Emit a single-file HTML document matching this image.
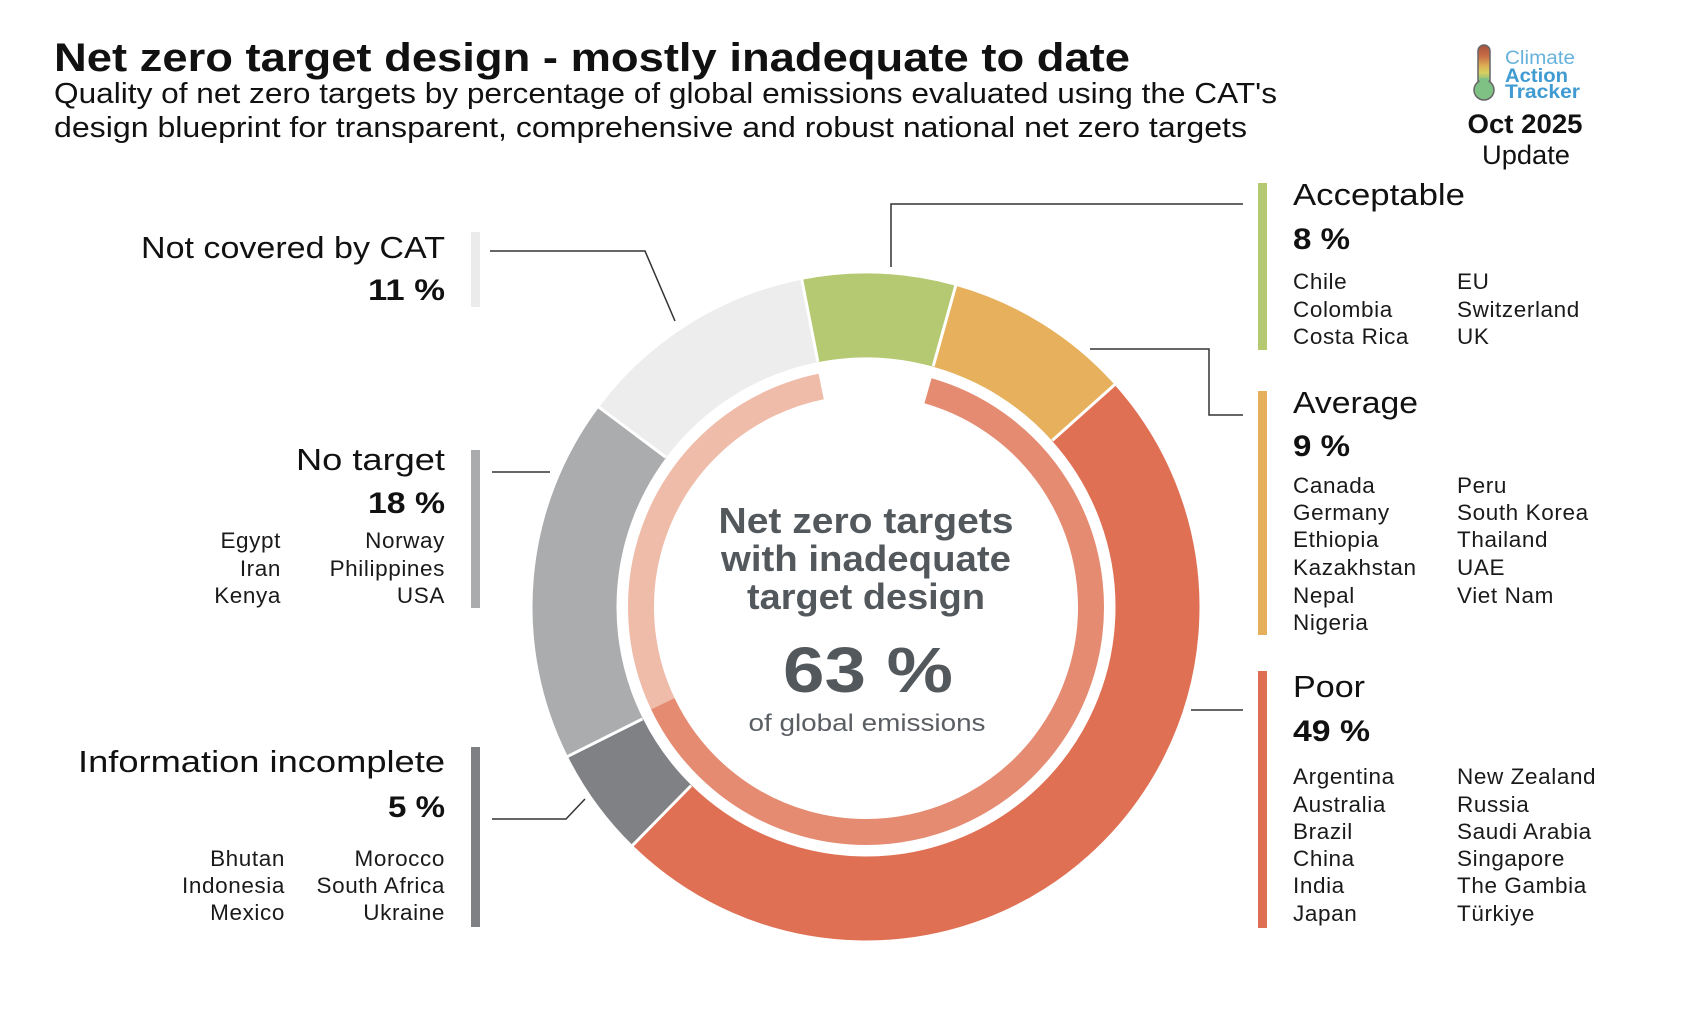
<!DOCTYPE html>
<html>
<head>
<meta charset="utf-8">
<style>
  html, body { margin: 0; padding: 0; background: #ffffff; }
  svg { display: block; }
  text { font-family: "Liberation Sans", "DejaVu Sans", sans-serif; }
  .hd { font-size: 31px; fill: #111; }
  .pc { font-size: 30px; font-weight: bold; fill: #111; }
  .ct { font-size: 22.5px; fill: #1a1a1a; letter-spacing: 0.6px; }
  .ln { stroke: #333; stroke-width: 1.5; fill: none; }
</style>
</head>
<body>
<svg width="1696" height="1022" viewBox="0 0 1696 1022" xmlns="http://www.w3.org/2000/svg">
  <defs>
    <linearGradient id="therm" x1="0" y1="0" x2="0" y2="1">
      <stop offset="0" stop-color="#a8523e"/>
      <stop offset="0.25" stop-color="#c96f45"/>
      <stop offset="0.45" stop-color="#dcae55"/>
      <stop offset="0.6" stop-color="#d8d060"/>
      <stop offset="0.75" stop-color="#8fc27d"/>
      <stop offset="1" stop-color="#7fc085"/>
    </linearGradient>
  </defs>

  <!-- Title -->
  <text x="54" y="71" font-size="40" font-weight="bold" fill="#111" textLength="1076" lengthAdjust="spacingAndGlyphs">Net zero target design - mostly inadequate to date</text>
  <text x="54" y="103" font-size="29" fill="#111" textLength="1223" lengthAdjust="spacingAndGlyphs">Quality of net zero targets by percentage of global emissions evaluated using the CAT's</text>
  <text x="54" y="137" font-size="29" fill="#111" textLength="1193" lengthAdjust="spacingAndGlyphs">design blueprint for transparent, comprehensive and robust national net zero targets</text>

  <!-- Logo -->
  <rect x="1478" y="45" width="12" height="46" rx="6" fill="url(#therm)" stroke="#666" stroke-width="1.5"/>
  <circle cx="1484" cy="90" r="10" fill="#7fc085" stroke="#666" stroke-width="1.5"/>
  <rect x="1479.5" y="78" width="9" height="14" fill="#7fc085"/>
  <text x="1505" y="64" font-size="19" fill="#67b2dd" textLength="70" lengthAdjust="spacingAndGlyphs">Climate</text>
  <text x="1505" y="82" font-size="19" font-weight="bold" fill="#3f9bd2" textLength="63" lengthAdjust="spacingAndGlyphs">Action</text>
  <text x="1505" y="98" font-size="19" font-weight="bold" fill="#3f9bd2" textLength="75" lengthAdjust="spacingAndGlyphs">Tracker</text>
  <text x="1525" y="133" font-size="27" font-weight="bold" fill="#111" text-anchor="middle" textLength="115" lengthAdjust="spacingAndGlyphs">Oct 2025</text>
  <text x="1526" y="164" font-size="27" fill="#111" text-anchor="middle" textLength="88" lengthAdjust="spacingAndGlyphs">Update</text>

  <!-- Outer ring -->
  <g fill="none" stroke-width="84">
    <circle cx="866" cy="607" r="291.5" stroke="#ededed" stroke-dasharray="214.2 5000" transform="rotate(216.8 866 607)"/>
    <circle cx="866" cy="607" r="291.5" stroke="#b4c971" stroke-dasharray="135.8 5000" transform="rotate(258.9 866 607)"/>
    <circle cx="866" cy="607" r="291.5" stroke="#e7b05c" stroke-dasharray="165.9 5000" transform="rotate(-74.4 866 607)"/>
    <circle cx="866" cy="607" r="291.5" stroke="#df7054" stroke-dasharray="896.4 5000" transform="rotate(-41.8 866 607)"/>
    <circle cx="866" cy="607" r="291.5" stroke="#7f8184" stroke-dasharray="96.7 5000" transform="rotate(134.4 866 607)"/>
    <circle cx="866" cy="607" r="291.5" stroke="#aaacae" stroke-dasharray="322.6 5000" transform="rotate(153.4 866 607)"/>
  </g>
  <g stroke="#fff" stroke-width="3">
    <line x1="866" y1="357" x2="866" y2="268" transform="rotate(306.8 866 607)"/>
    <line x1="866" y1="357" x2="866" y2="268" transform="rotate(348.9 866 607)"/>
    <line x1="866" y1="357" x2="866" y2="268" transform="rotate(15.6 866 607)"/>
    <line x1="866" y1="357" x2="866" y2="268" transform="rotate(48.2 866 607)"/>
    <line x1="866" y1="357" x2="866" y2="268" transform="rotate(224.4 866 607)"/>
    <line x1="866" y1="357" x2="866" y2="268" transform="rotate(243.4 866 607)"/>
  </g>

  <!-- Inner ring -->
  <g fill="none" stroke-width="26">
    <circle cx="866" cy="607" r="225" stroke="#f0bcaa" stroke-dasharray="408.4 5000" transform="rotate(154.5 866 607)"/>
    <circle cx="866" cy="607" r="225" stroke="#e58b71" stroke-dasharray="897.3 5000" transform="rotate(-74 866 607)"/>
  </g>

  <!-- Center text -->
  <g fill="#53585c" font-weight="bold" text-anchor="middle">
    <text x="866" y="533" font-size="36" textLength="295" lengthAdjust="spacingAndGlyphs">Net zero targets</text>
    <text x="866" y="571" font-size="36" textLength="290" lengthAdjust="spacingAndGlyphs">with inadequate</text>
    <text x="866" y="609" font-size="36" textLength="238" lengthAdjust="spacingAndGlyphs">target design</text>
    <text x="868" y="692" font-size="64" textLength="170" lengthAdjust="spacingAndGlyphs">63 %</text>
  </g>
  <text x="867" y="731" font-size="24" fill="#5b5f63" text-anchor="middle" textLength="237" lengthAdjust="spacingAndGlyphs">of global emissions</text>

  <!-- Connectors -->
  <path class="ln" d="M490 251 H645 L675 321"/>
  <path class="ln" d="M492 472 H550"/>
  <path class="ln" d="M492 819 H566 L585 799"/>
  <path class="ln" d="M891 267 V204 H1243"/>
  <path class="ln" d="M1090 349 H1209 V415 H1243"/>
  <path class="ln" d="M1191 710 H1243"/>

  <!-- Bars -->
  <rect x="471" y="232" width="9" height="75" fill="#ebebeb"/>
  <rect x="471" y="450" width="9" height="158" fill="#a9abad"/>
  <rect x="471" y="747" width="9" height="180" fill="#7e8083"/>
  <rect x="1258" y="183" width="9" height="167" fill="#b4c971"/>
  <rect x="1258" y="391" width="9" height="244" fill="#e6af5b"/>
  <rect x="1258" y="671" width="9" height="257" fill="#df6f53"/>

  <!-- Left labels -->
  <g text-anchor="end">
    <text class="hd" x="445" y="258" textLength="304" lengthAdjust="spacingAndGlyphs">Not covered by CAT</text>
    <text class="pc" x="445" y="300" textLength="77" lengthAdjust="spacingAndGlyphs">11 %</text>

    <text class="hd" x="445" y="470" textLength="149" lengthAdjust="spacingAndGlyphs">No target</text>
    <text class="pc" x="445" y="513" textLength="77" lengthAdjust="spacingAndGlyphs">18 %</text>
    <text class="ct" x="281" y="548">Egypt</text>
    <text class="ct" x="281" y="576">Iran</text>
    <text class="ct" x="281" y="603">Kenya</text>
    <text class="ct" x="445" y="548">Norway</text>
    <text class="ct" x="445" y="576">Philippines</text>
    <text class="ct" x="445" y="603">USA</text>

    <text class="hd" x="445" y="772" textLength="367" lengthAdjust="spacingAndGlyphs">Information incomplete</text>
    <text class="pc" x="445" y="817" textLength="57" lengthAdjust="spacingAndGlyphs">5 %</text>
    <text class="ct" x="285" y="866">Bhutan</text>
    <text class="ct" x="285" y="893">Indonesia</text>
    <text class="ct" x="285" y="920">Mexico</text>
    <text class="ct" x="445" y="866">Morocco</text>
    <text class="ct" x="445" y="893">South Africa</text>
    <text class="ct" x="445" y="920">Ukraine</text>
  </g>

  <!-- Right labels -->
  <text class="hd" x="1293" y="205" textLength="172" lengthAdjust="spacingAndGlyphs">Acceptable</text>
  <text class="pc" x="1293" y="249" textLength="57" lengthAdjust="spacingAndGlyphs">8 %</text>
  <text class="ct" x="1293" y="289">Chile</text>
  <text class="ct" x="1293" y="317">Colombia</text>
  <text class="ct" x="1293" y="344">Costa Rica</text>
  <text class="ct" x="1457" y="289">EU</text>
  <text class="ct" x="1457" y="317">Switzerland</text>
  <text class="ct" x="1457" y="344">UK</text>

  <text class="hd" x="1293" y="413" textLength="125" lengthAdjust="spacingAndGlyphs">Average</text>
  <text class="pc" x="1293" y="456" textLength="57" lengthAdjust="spacingAndGlyphs">9 %</text>
  <text class="ct" x="1293" y="493">Canada</text>
  <text class="ct" x="1293" y="520">Germany</text>
  <text class="ct" x="1293" y="547">Ethiopia</text>
  <text class="ct" x="1293" y="575">Kazakhstan</text>
  <text class="ct" x="1293" y="603">Nepal</text>
  <text class="ct" x="1293" y="630">Nigeria</text>
  <text class="ct" x="1457" y="493">Peru</text>
  <text class="ct" x="1457" y="520">South Korea</text>
  <text class="ct" x="1457" y="547">Thailand</text>
  <text class="ct" x="1457" y="575">UAE</text>
  <text class="ct" x="1457" y="603">Viet Nam</text>

  <text class="hd" x="1293" y="697" textLength="72" lengthAdjust="spacingAndGlyphs">Poor</text>
  <text class="pc" x="1293" y="741" textLength="77" lengthAdjust="spacingAndGlyphs">49 %</text>
  <text class="ct" x="1293" y="784">Argentina</text>
  <text class="ct" x="1293" y="812">Australia</text>
  <text class="ct" x="1293" y="839">Brazil</text>
  <text class="ct" x="1293" y="866">China</text>
  <text class="ct" x="1293" y="893">India</text>
  <text class="ct" x="1293" y="921">Japan</text>
  <text class="ct" x="1457" y="784">New Zealand</text>
  <text class="ct" x="1457" y="812">Russia</text>
  <text class="ct" x="1457" y="839">Saudi Arabia</text>
  <text class="ct" x="1457" y="866">Singapore</text>
  <text class="ct" x="1457" y="893">The Gambia</text>
  <text class="ct" x="1457" y="921">Türkiye</text>
</svg>
</body>
</html>
